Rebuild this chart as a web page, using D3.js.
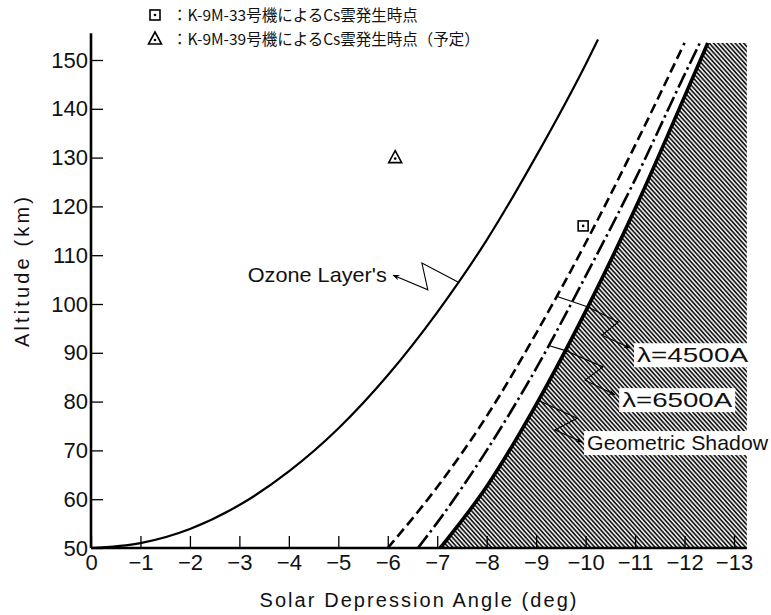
<!DOCTYPE html>
<html>
<head>
<meta charset="utf-8">
<script src="https://cdn.jsdelivr.net/npm/d3@7"></script>
<style>
  body { margin: 0; background: #fff; }
  text { font-family: "Liberation Sans", Arial, sans-serif; fill: #111; }
</style>
</head>
<body>
<svg id="chart" width="771" height="615"></svg>
<script>
// values (angle in deg, altitude in km)
var ozoneAngle = [0, -1, -2, -3, -4, -5, -6, -7, -8, -9, -10, -10.25];
var ozoneAlt = [50, 51, 53.9, 58.8, 65.7, 74.5, 85.4, 98.3, 113.1, 130.3, 149.1, 154.2];

var blueAngle = [-6, -7, -8, -9, -10, -11, -12];           // lambda = 4500A (dashed)
var blueAlt = [50, 62.5, 77, 94, 112.5, 132.5, 153.5];

var redAngle = [-6.61, -7, -8, -9, -10, -11, -12, -12.31]; // lambda = 6500A (dash-dot)
var redAlt = [50, 55.2, 70, 86.8, 105.7, 125.5, 147, 153.5];

var geoAngle = [-7.06, -8, -9, -10, -11, -12, -12.47];     // geometric shadow
var geoAlt = [50, 62.6, 79.4, 98.5, 119.5, 142.5, 153.5];

var cs33 = [-9.95, 116];  // square
var cs39 = [-6.15, 130];  // triangle

var xTicks = [0, -1, -2, -3, -4, -5, -6, -7, -8, -9, -10, -11, -12, -13];
var yTicks = [50, 60, 70, 80, 90, 100, 110, 120, 130, 140, 150];

var legendLines = [
  "：K-9M-33号機によるCs雲発生時点",
  "：K-9M-39号機によるCs雲発生時点（予定）"
];

var svg = d3.select("#chart");

var x = d3.scaleLinear().domain([0, -13]).range([91, 734]);
var y = d3.scaleLinear().domain([50, 150]).range([548, 60]);

// hatch pattern for the shadow region
var defs = svg.append("defs");
defs.append("pattern")
  .attr("id", "hatch")
  .attr("patternUnits", "userSpaceOnUse")
  .attr("width", 8)
  .attr("height", 3.2)
  .attr("patternTransform", "rotate(48)")
  .append("line")
  .attr("x1", 0).attr("y1", 1).attr("x2", 8).attr("y2", 1)
  .attr("stroke", "#000")
  .attr("stroke-width", 1.6);

defs.append("marker")
  .attr("id", "arrow")
  .attr("viewBox", "0 0 10 10")
  .attr("refX", 9).attr("refY", 5)
  .attr("markerWidth", 9).attr("markerHeight", 7)
  .attr("markerUnits", "userSpaceOnUse")
  .attr("orient", "auto")
  .append("path")
  .attr("d", "M0,1 L10,5 L0,9 L3,5 Z")
  .attr("fill", "#000");

var line = d3.line()
  .x(function (d) { return x(d[0]); })
  .y(function (d) { return y(d[1]); })
  .curve(d3.curveMonotoneX);

// shaded region right of the geometric shadow
var shadowPts = d3.zip(geoAngle, geoAlt).concat([[-13.26, 153.5], [-13.26, 50]]);
svg.append("path")
  .attr("d", d3.line().x(function (d) { return x(d[0]); }).y(function (d) { return y(d[1]); })(shadowPts) + "Z")
  .attr("fill", "url(#hatch)");

// curves
svg.append("path")
  .attr("d", line(d3.zip(ozoneAngle, ozoneAlt)))
  .attr("fill", "none").attr("stroke", "#000").attr("stroke-width", 2.2);

svg.append("path")
  .attr("d", line(d3.zip(blueAngle, blueAlt)))
  .attr("fill", "none").attr("stroke", "#000").attr("stroke-width", 2.6)
  .attr("stroke-dasharray", "10,5");

svg.append("path")
  .attr("d", line(d3.zip(redAngle, redAlt)))
  .attr("fill", "none").attr("stroke", "#000").attr("stroke-width", 2.6)
  .attr("stroke-dasharray", "16,4,2.5,4");

svg.append("path")
  .attr("d", line(d3.zip(geoAngle, geoAlt)))
  .attr("fill", "none").attr("stroke", "#000").attr("stroke-width", 3.6);

// axes
var fmt = function (d) { return d === 0 ? "0" : "\u2212" + Math.abs(d); };

var gx = svg.append("g")
  .attr("transform", "translate(0," + y(50) + ")")
  .call(d3.axisBottom(x).tickValues(xTicks).tickSize(-12).tickPadding(6).tickFormat(fmt));
gx.select(".domain").remove();

var gy = svg.append("g")
  .attr("transform", "translate(" + x(0) + ",0)")
  .call(d3.axisLeft(y).tickValues(yTicks).tickSize(-12).tickPadding(3));
gy.select(".domain").remove();

svg.selectAll(".tick line").attr("stroke", "#000").attr("stroke-width", 1.3);
svg.selectAll(".tick text")
  .style("font-family", "'Liberation Sans', Arial, sans-serif")
  .style("font-size", "22px")
  .attr("fill", "#111");

svg.append("line")
  .attr("x1", x(0)).attr("y1", y(50)).attr("x2", x(0)).attr("y2", y(155.5))
  .attr("stroke", "#000").attr("stroke-width", 2.6);
svg.append("line")
  .attr("x1", x(0)).attr("y1", y(50)).attr("x2", x(-13.26)).attr("y2", y(50))
  .attr("stroke", "#000").attr("stroke-width", 2.6);

svg.append("text")
  .attr("x", 418).attr("y", 607)
  .attr("text-anchor", "middle")
  .attr("textLength", 317).attr("lengthAdjust", "spacing")
  .style("font-size", "20px")
  .text("Solar Depression Angle  (deg)");

svg.append("text")
  .attr("transform", "translate(29,272) rotate(-90)")
  .attr("text-anchor", "middle")
  .attr("textLength", 150).attr("lengthAdjust", "spacing")
  .style("font-size", "20px")
  .text("Altitude  (km)");

// markers
function squareMark(g, cx, cy) {
  g.append("rect").attr("x", cx - 5).attr("y", cy - 5).attr("width", 10).attr("height", 10)
    .attr("fill", "#fff").attr("stroke", "#000").attr("stroke-width", 1.6);
  g.append("circle").attr("cx", cx).attr("cy", cy).attr("r", 1.3).attr("fill", "#000");
}
function triMark(g, cx, cy) {
  g.append("path")
    .attr("d", "M" + cx + "," + (cy - 7) + " L" + (cx + 6.5) + "," + (cy + 5) + " L" + (cx - 6.5) + "," + (cy + 5) + " Z")
    .attr("fill", "#fff").attr("stroke", "#000").attr("stroke-width", 1.6);
  g.append("circle").attr("cx", cx).attr("cy", cy + 1).attr("r", 1.3).attr("fill", "#000");
}
squareMark(svg, x(cs33[0]), y(cs33[1]));
triMark(svg, x(cs39[0]), y(cs39[1]));

// legend
var legendY = [15, 39];
squareMark(svg, 155, legendY[0]);
triMark(svg, 155, legendY[1]);
svg.selectAll(".legend")
  .data(legendLines)
  .enter()
  .append("text")
  .attr("x", 172)
  .attr("y", function (d, i) { return legendY[i] + 6; })
  .style("font-family", "'Noto Sans CJK JP', sans-serif")
  .style("font-size", "15.5px")
  .text(function (d) { return d; });

// leader lines (angle, altitude)
var leaders = [
  { pts: [[-7.42, 104.5], [-6.69, 108.4], [-6.81, 102.9], [-6.11, 105.9]], connector: null },
  { pts: [[-10.05, 99.4], [-10.66, 96.3], [-10.33, 93.6], [-10.9, 91.0]], connector: [[-9.41, 101.6], [-10.05, 99.4]] },
  { pts: [[-9.58, 90.5], [-10.35, 87.1], [-9.99, 84.4], [-10.59, 81.4]], connector: [[-9.25, 91.5], [-9.58, 90.5]] },
  { pts: [[-9.05, 80.2], [-9.83, 76.6], [-9.38, 74.2], [-9.93, 71.7]], connector: null }
];
var straight = d3.line().x(function (d) { return x(d[0]); }).y(function (d) { return y(d[1]); });
leaders.forEach(function (l) {
  if (l.connector) {
    svg.append("path").attr("d", straight(l.connector))
      .attr("fill", "none").attr("stroke", "#000").attr("stroke-width", 1.1);
  }
  svg.append("path").attr("d", straight(l.pts))
    .attr("fill", "none").attr("stroke", "#000").attr("stroke-width", 1.1)
    .attr("marker-end", "url(#arrow)");
});

// labels
var labels = [
  { text: "Ozone Layer's", at: [-5.98, 105.9], anchor: "end", len: 139, box: false },
  { text: "\u03bb=4500A", at: [-11.04, 89.5], anchor: "start", len: 111, box: true },
  { text: "\u03bb=6500A", at: [-10.74, 80.3], anchor: "start", len: 110, box: true },
  { text: "Geometric Shadow", at: [-10.03, 71.5], anchor: "start", len: 181, box: true }
];
labels.forEach(function (l) {
  var tx = x(l.at[0]), ty = y(l.at[1]);
  if (l.box) {
    svg.append("rect")
      .attr("x", tx - 3).attr("y", ty - 12)
      .attr("width", l.len + 6).attr("height", 24)
      .attr("fill", "#fff");
  }
  svg.append("text")
    .attr("x", tx).attr("y", ty + 7)
    .attr("text-anchor", l.anchor)
    .attr("textLength", l.len).attr("lengthAdjust", "spacingAndGlyphs")
    .style("font-size", "21px")
    .text(l.text);
});
</script>
</body>
</html>
